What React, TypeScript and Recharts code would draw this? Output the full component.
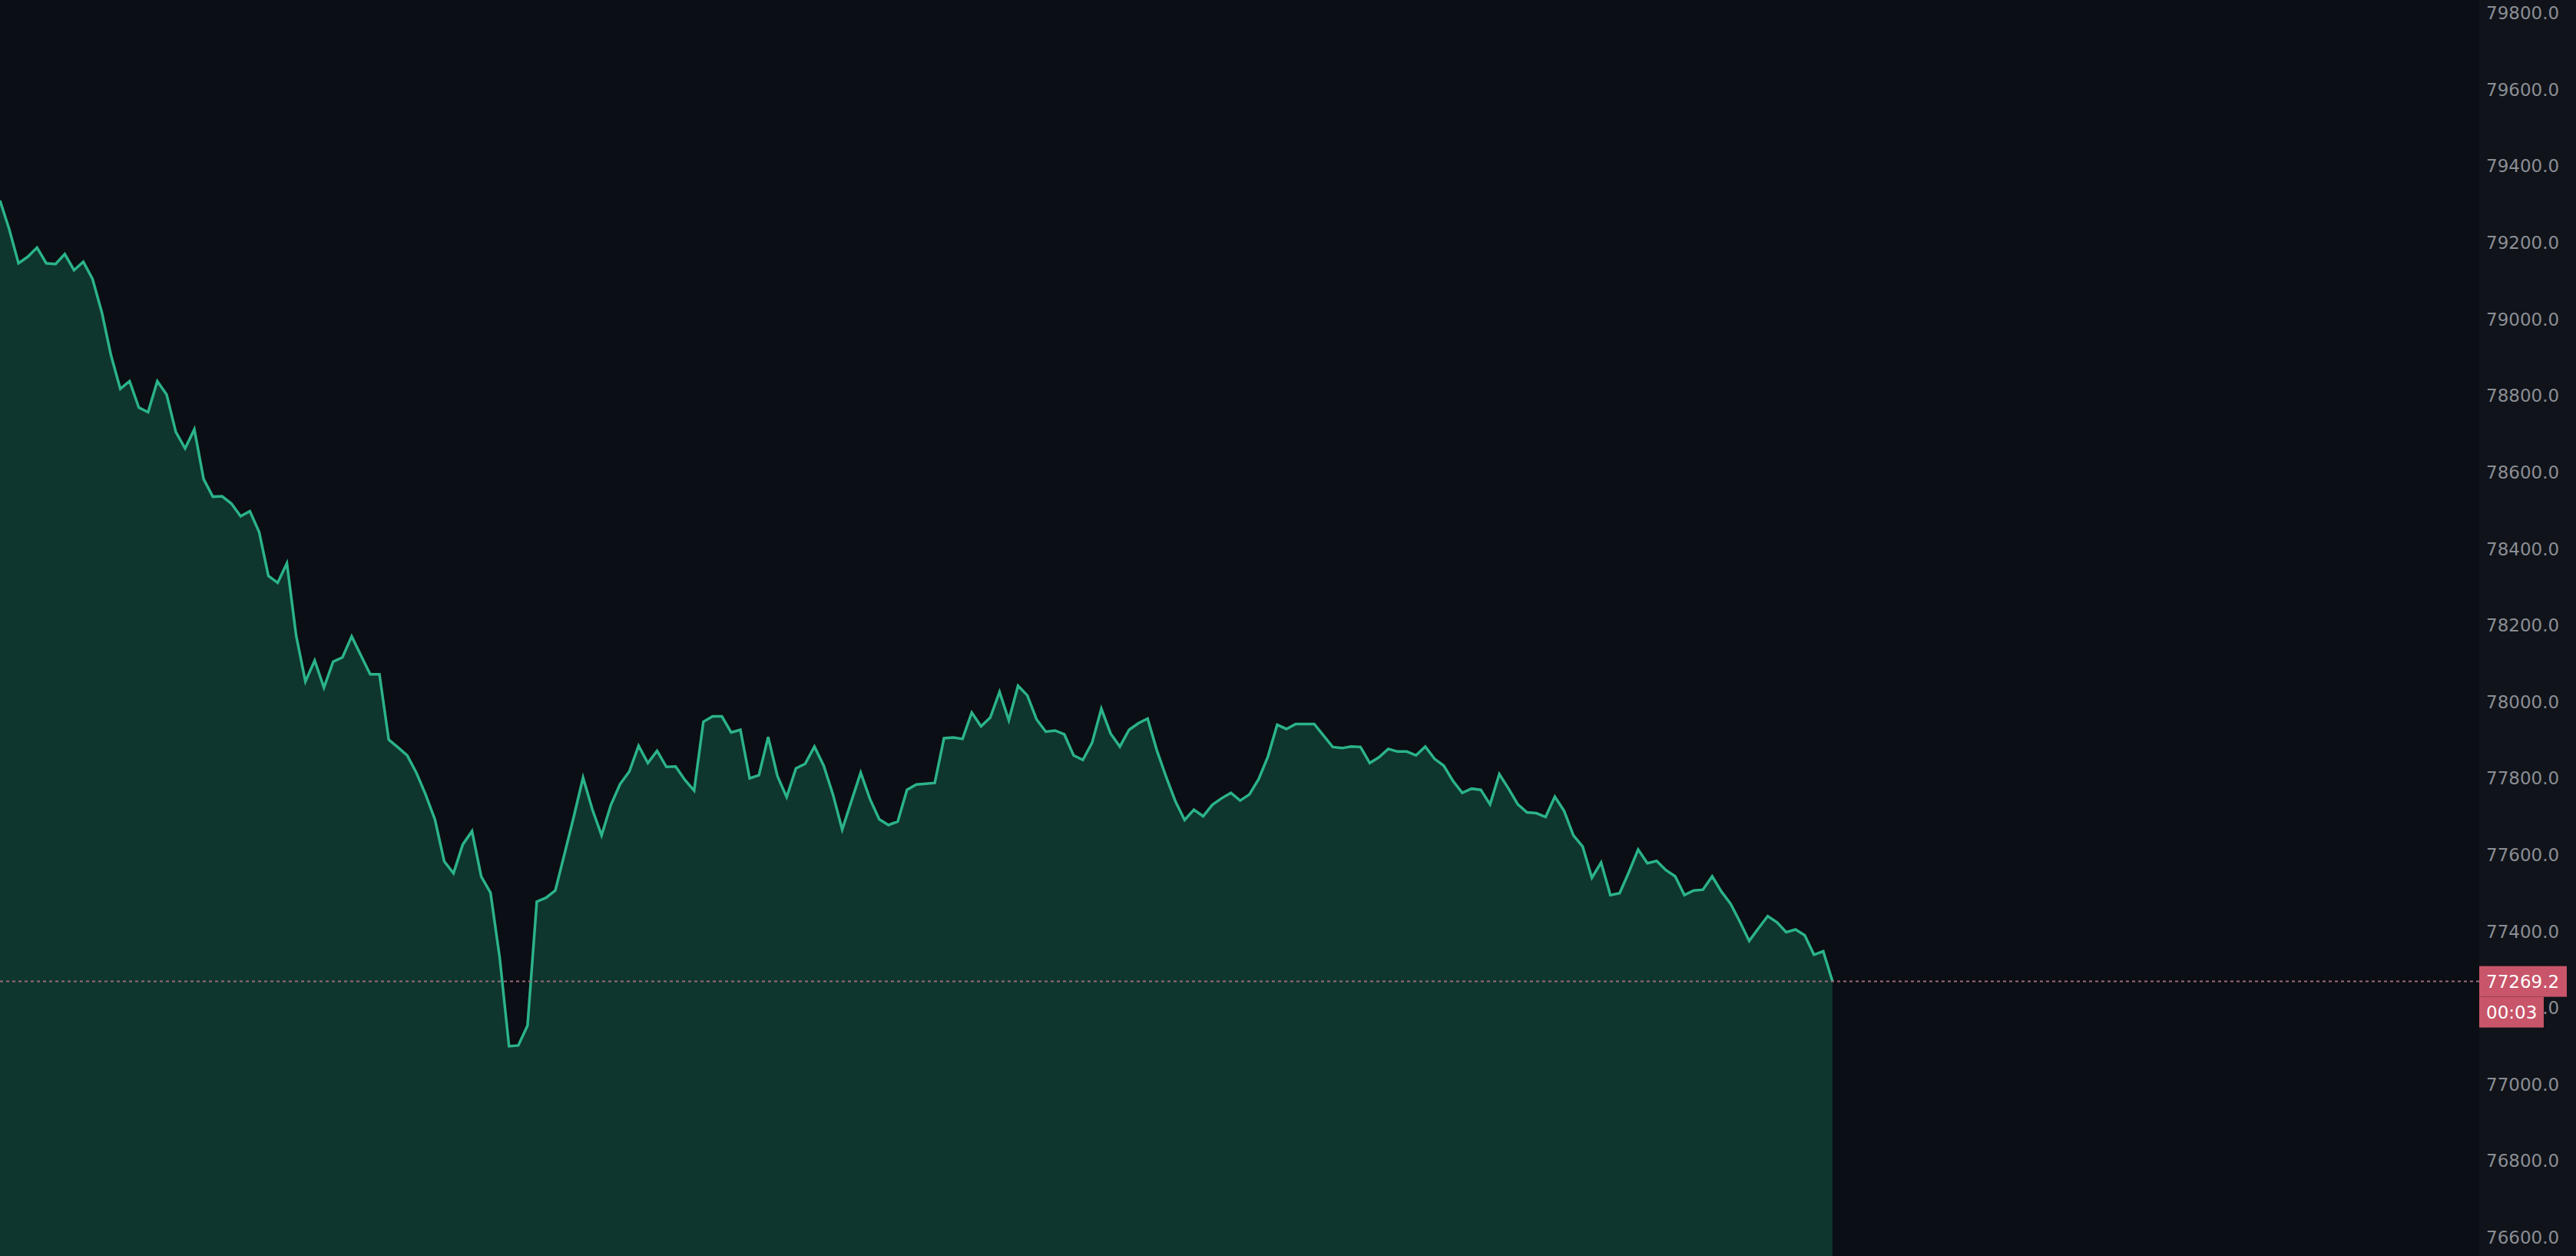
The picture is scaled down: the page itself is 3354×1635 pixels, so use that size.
import React from 'react';
import { Area, AreaChart, ReferenceLine, XAxis, YAxis } from 'recharts';

// last traded prices, one per bar, oldest first
const prices = [
  79310, 79235, 79146, 79163, 79187, 79146, 79144, 79170, 79128, 79150,
  79105, 79018, 78905, 78818, 78838, 78769, 78757, 78838, 78803, 78705,
  78662, 78712, 78582, 78536, 78537, 78518, 78485, 78498, 78444, 78329,
  78311, 78362, 78173, 78053, 78108, 78037, 78105, 78116, 78171, 78121,
  78072, 78072, 77901, 77881, 77860, 77814, 77757, 77692, 77583, 77552,
  77627, 77662, 77543, 77501, 77330, 77100, 77102, 77154, 77478, 77488,
  77507, 77603, 77700, 77802, 77719, 77651, 77730, 77785, 77818, 77885,
  77840, 77872, 77830, 77831, 77796, 77768, 77948, 77962, 77962, 77920,
  77927, 77800, 77808, 77908, 77806, 77751, 77826, 77838, 77883, 77833,
  77758, 77666, 77741, 77815, 77746, 77693, 77678, 77687, 77770, 77784,
  77786, 77788, 77905, 77907, 77903, 77972, 77936, 77959, 78026, 77952,
  78042, 78017, 77954, 77922, 77925, 77915, 77860, 77848, 77893, 77982,
  77917, 77883, 77927, 77944, 77956, 77873, 77804, 77740, 77691, 77718,
  77701, 77731, 77748, 77762, 77742, 77758, 77798, 77857, 77940, 77929,
  77942, 77942, 77942, 77912, 77882, 77879, 77883, 77882, 77840, 77855,
  77877, 77870, 77870, 77860, 77883, 77851, 77833, 77793, 77762, 77773,
  77770, 77732, 77811, 77773, 77732, 77711, 77709, 77699, 77752, 77715,
  77651, 77622, 77540, 77580, 77495, 77500, 77555, 77614, 77578, 77584,
  77560, 77544, 77495, 77507, 77509, 77544, 77504, 77472, 77425, 77375,
  77408, 77440, 77424, 77398, 77405, 77390, 77339, 77348, 77269.2,
];

const priceTicks = [
  76600, 76800, 77000, 77200, 77400, 77600, 77800, 78000,
  78200, 78400, 78600, 78800, 79000, 79200, 79400, 79600, 79800,
];

const lastPrice = 77269.2;
const countdown = '00:03';

const data = prices.map((price, i) => ({ i, price }));

const W = 3354;
const H = 1635;
const AXIS_W = 126;
const PAD = 9;

const FONT = 'DejaVu Sans';
const TAG_BG = '#c85569';

// the last-price tag is the final tick of the scale, so it is painted over the 77200.0 label
function ScaleTick(props: any) {
  const { x, y, payload } = props;
  const value = payload.value as number;
  if (value === lastPrice) {
    const left = x - PAD;
    return (
      <g>
        <rect x={left} y={y - 20} width={114} height={40} fill={TAG_BG} />
        <text x={x} y={y} dy="0.355em" fill="#ffffff" fontSize={23} fontFamily={FONT}>
          {lastPrice.toFixed(1)}
        </text>
        <rect x={left} y={y + 20} width={84} height={40} fill={TAG_BG} />
        <text x={x} y={y + 40} dy="0.355em" fill="#ffffff" fontSize={23} fontFamily={FONT}>
          {countdown}
        </text>
      </g>
    );
  }
  return (
    <text x={x} y={y} dy="0.355em" fill="#8b8e94" fontSize={23} fontFamily={FONT} textAnchor="start">
      {value.toFixed(1)}
    </text>
  );
}

export default function App() {
  return (
    <div
      style={{
        position: 'absolute',
        left: 0,
        top: 0,
        width: W,
        height: H,
        background: `linear-gradient(to right, #0b0e14 0px, #0b0e14 ${W - AXIS_W}px, #10131a ${W - AXIS_W}px)`,
      }}
    >
      <AreaChart width={W} height={H} data={data} margin={{ top: 0, right: 0, bottom: 0, left: 0 }}>
        <XAxis dataKey="i" type="number" domain={[0, 267.88]} hide allowDataOverflow />
        <YAxis
          orientation="right"
          width={AXIS_W}
          domain={[76551.7, 79834.1]}
          allowDataOverflow
          ticks={[...priceTicks, lastPrice]}
          interval={0}
          tick={<ScaleTick />}
          axisLine={false}
          tickLine={false}
          tickSize={0}
          tickMargin={PAD}
        />
        <Area
          type="linear"
          dataKey="price"
          stroke="#2bb389"
          strokeWidth={3.5}
          fill="#0e362e"
          fillOpacity={1}
          dot={false}
          activeDot={false}
          isAnimationActive={false}
        />
        <ReferenceLine y={lastPrice} stroke="#9a6a77" strokeWidth={2} strokeDasharray="4 4" />
      </AreaChart>
    </div>
  );
}
